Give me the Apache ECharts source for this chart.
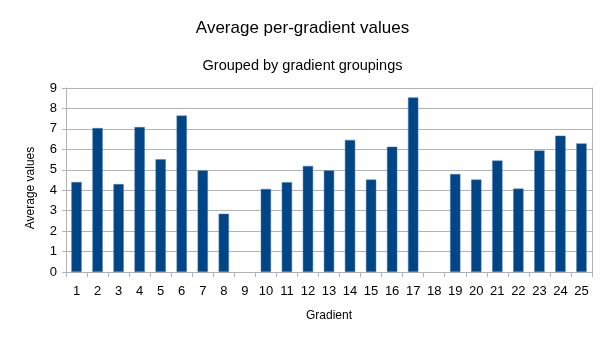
<!DOCTYPE html>
<html>
<head>
<meta charset="utf-8">
<script src="https://cdn.jsdelivr.net/npm/echarts@6/dist/echarts.min.js"></script>
<style>
  html, body { margin: 0; padding: 0; background: #fff; }
  #chart { width: 605px; height: 341px; }
</style>
</head>
<body>
<div id="chart"></div>
<script>
// Gradient categories 1..25 (9 and 18 have no value)
const categories = ['1','2','3','4','5','6','7','8','9','10','11','12','13','14','15','16','17','18','19','20','21','22','23','24','25'];
const averageValues = [4.40, 7.04, 4.30, 7.09, 5.51, 7.65, 4.97, 2.85, null, 4.06, 4.39, 5.19, 4.97, 6.46, 4.52, 6.13, 8.54, null, 4.79, 4.52, 5.45, 4.08, 5.94, 6.67, 6.29];
const yTicks = [0, 1, 2, 3, 4, 5, 6, 7, 8, 9];

const FONT = '"Liberation Sans", Arial, sans-serif';
const chart = echarts.init(document.getElementById('chart'));

chart.setOption({
  animation: false,
  backgroundColor: '#ffffff',
  title: [
    { text: 'Average per-gradient values', left: 'center', top: 15,
      textStyle: { fontFamily: FONT, fontSize: 17, fontWeight: 'normal', color: '#000' } },
    { text: 'Grouped by gradient groupings', left: 'center', top: 53,
      textStyle: { fontFamily: FONT, fontSize: 14.5, fontWeight: 'normal', color: '#000' } }
  ],
  grid: { left: 66, right: 13, top: 88, bottom: 69, containLabel: false, show: false },
  xAxis: {
    type: 'category',
    data: categories,
    name: 'Gradient',
    nameLocation: 'middle',
    nameGap: 38,
    nameTextStyle: { fontFamily: FONT, fontSize: 12, color: '#000' },
    axisLine: { show: true, lineStyle: { color: '#b3b3b3', width: 1 } },
    axisTick: { show: true, alignWithLabel: false, length: 5, lineStyle: { color: '#b3b3b3' } },
    axisLabel: { fontFamily: FONT, fontSize: 13, color: '#000', margin: 13, interval: 0 },
    splitLine: { show: false }
  },
  yAxis: [{
    type: 'value',
    min: yTicks[0],
    max: yTicks[yTicks.length - 1],
    interval: 1,
    name: 'Average values',
    nameLocation: 'middle',
    nameGap: 29,
    nameRotate: 90,
    nameTextStyle: { fontFamily: FONT, fontSize: 12, color: '#000', padding: [0, 16, 0, 0] },
    axisLine: { show: true, lineStyle: { color: '#b3b3b3', width: 1 } },
    axisTick: { show: true, length: 4, lineStyle: { color: '#b3b3b3' } },
    axisLabel: { fontFamily: FONT, fontSize: 13, color: '#000', margin: 9 },
    splitLine: { show: true, lineStyle: { color: '#b3b3b3', width: 1 } }
  }, {
    // right frame edge of the plot area
    type: 'value',
    position: 'right',
    min: yTicks[0],
    max: yTicks[yTicks.length - 1],
    interval: 1,
    axisLine: { show: true, lineStyle: { color: '#b3b3b3', width: 1 } },
    axisTick: { show: false },
    axisLabel: { show: false },
    splitLine: { show: false }
  }],
  series: [{
    type: 'bar',
    data: averageValues,
    barWidth: '49%',
    itemStyle: { color: '#004586', borderColor: '#4f7fae', borderWidth: 0.5 }
  }]
});
</script>
</body>
</html>
